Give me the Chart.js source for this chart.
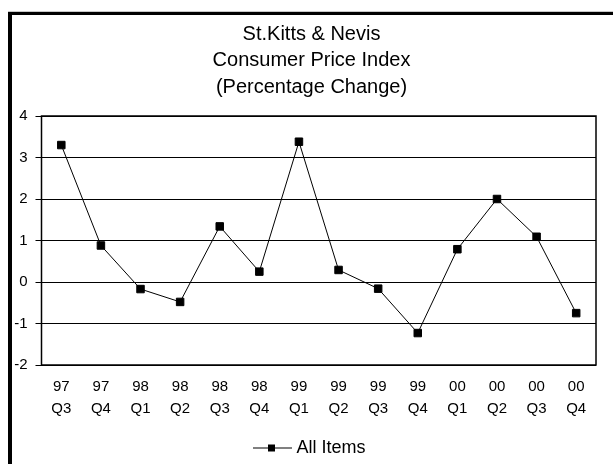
<!DOCTYPE html>
<html>
<head>
<meta charset="utf-8">
<title>St.Kitts &amp; Nevis Consumer Price Index</title>
<script src="https://cdn.jsdelivr.net/npm/chart.js@4/dist/chart.umd.min.js"></script>
<style>
  html, body { margin: 0; padding: 0; background: #fff; }
  #wrap { position: relative; width: 613px; height: 464px; }
  canvas { display: block; }
</style>
</head>
<body>
<div id="wrap"><canvas id="cpi" width="613" height="464"></canvas></div>
<script>
// Quarterly CPI, percentage change
const titleLines = ['St.Kitts & Nevis', 'Consumer Price Index', '(Percentage Change)'];
const years    = ['97', '97', '98', '98', '98', '98', '99', '99', '99', '99', '00', '00', '00', '00'];
const quarters = ['Q3', 'Q4', 'Q1', 'Q2', 'Q3', 'Q4', 'Q1', 'Q2', 'Q3', 'Q4', 'Q1', 'Q2', 'Q3', 'Q4'];
const allItems = [3.3, 0.88, -0.17, -0.48, 1.34, 0.25, 3.38, 0.29, -0.16, -1.23, 0.79, 2.0, 1.09, -0.75];
const yMin = -2;
const yMax = 4;
const yStep = 1;
const seriesName = 'All Items';

const FONT = 'Arial, "Liberation Sans", sans-serif';

// two-line category labels: year above quarter
const labels = years.map((y, i) => [y, quarters[i]]);

// legend key: a short line with a square marker in the middle
function legendKey() {
  const c = document.createElement('canvas');
  c.width = 39; c.height = 9;
  const g = c.getContext('2d');
  g.strokeStyle = '#000';
  g.lineWidth = 1;
  g.beginPath();
  g.moveTo(0, 4.5); g.lineTo(39, 4.5);
  g.stroke();
  g.fillStyle = '#000';
  g.fillRect(15, 1, 7, 7);
  return c;
}
const keyImage = legendKey();

// outer frame (top and left edges) and the plot-area box
const framePlugin = {
  id: 'frame',
  afterLayout(chart) {
    // centre title and legend on the framed panel rather than the plot
    [chart.titleBlock, chart.legend].forEach(b => {
      if (b) { b.left = 10; b.right = 613; }
    });
    if (chart.legend) { chart.legend.top += 3; chart.legend.bottom += 3; }
  },
  beforeDraw(chart) {
    const ctx = chart.ctx;
    ctx.save();
    ctx.fillStyle = '#c8c8c8';
    ctx.fillRect(8, 11, 605, 1);
    ctx.fillStyle = '#000';
    ctx.fillRect(8, 12, 605, 3);
    ctx.fillRect(8, 12, 4, 452);
    ctx.restore();
  },
  afterDatasetsDraw(chart) {
    const a = chart.chartArea;
    const ctx = chart.ctx;
    ctx.save();
    ctx.strokeStyle = '#000';
    ctx.lineWidth = 1.5;
    ctx.strokeRect(a.left, a.top, a.right - a.left, a.bottom - a.top);
    ctx.restore();
  }
};

new Chart(document.getElementById('cpi'), {
  type: 'line',
  data: {
    labels: labels,
    datasets: [{
      label: seriesName,
      data: allItems,
      borderColor: '#000',
      borderWidth: 1,
      backgroundColor: '#000',
      pointStyle: 'rect',
      pointRadius: 5.3,
      pointHoverRadius: 5.3,
      pointBorderWidth: 1,
      pointBorderColor: '#000',
      pointBackgroundColor: '#000',
      tension: 0,
      fill: false
    }]
  },
  options: {
    responsive: false,
    animation: false,
    events: [],
    layout: { padding: { left: 10, right: 17, top: 0, bottom: 0 } },
    plugins: {
      title: {
        display: true,
        text: titleLines,
        color: '#000',
        font: { family: FONT, size: 20, weight: 'normal', lineHeight: 1.325 },
        padding: { top: 21, bottom: 15.5 }
      },
      legend: {
        display: true,
        position: 'bottom',
        labels: {
          color: '#000',
          font: { family: FONT, size: 18 },
          usePointStyle: true,
          pointStyleWidth: 30,
          padding: 3,
          generateLabels(chart) {
            return chart.data.datasets.map((ds, i) => ({
              text: ds.label,
              pointStyle: keyImage,
              fillStyle: '#000',
              strokeStyle: '#000',
              lineWidth: 0,
              hidden: false,
              datasetIndex: i,
              fontColor: '#000'
            }));
          }
        }
      },
      tooltip: { enabled: false }
    },
    scales: {
      x: {
        offset: true,
        grid: { display: false, drawTicks: false },
        border: { display: false },
        ticks: {
          color: '#000',
          font: { family: FONT, size: 15, lineHeight: 1.47 },
          padding: 11,
          maxRotation: 0,
          autoSkip: false
        },
        afterFit(scale) { scale.height = 68; }
      },
      y: {
        min: yMin,
        max: yMax,
        grid: { color: '#000', lineWidth: 1, tickLength: 6, tickColor: '#000' },
        border: { display: false },
        ticks: {
          stepSize: yStep,
          color: '#000',
          font: { family: FONT, size: 15 },
          padding: 8
        },
        afterFit(scale) { scale.width = 31.5; }
      }
    }
  },
  plugins: [framePlugin]
});
</script>
</body>
</html>
